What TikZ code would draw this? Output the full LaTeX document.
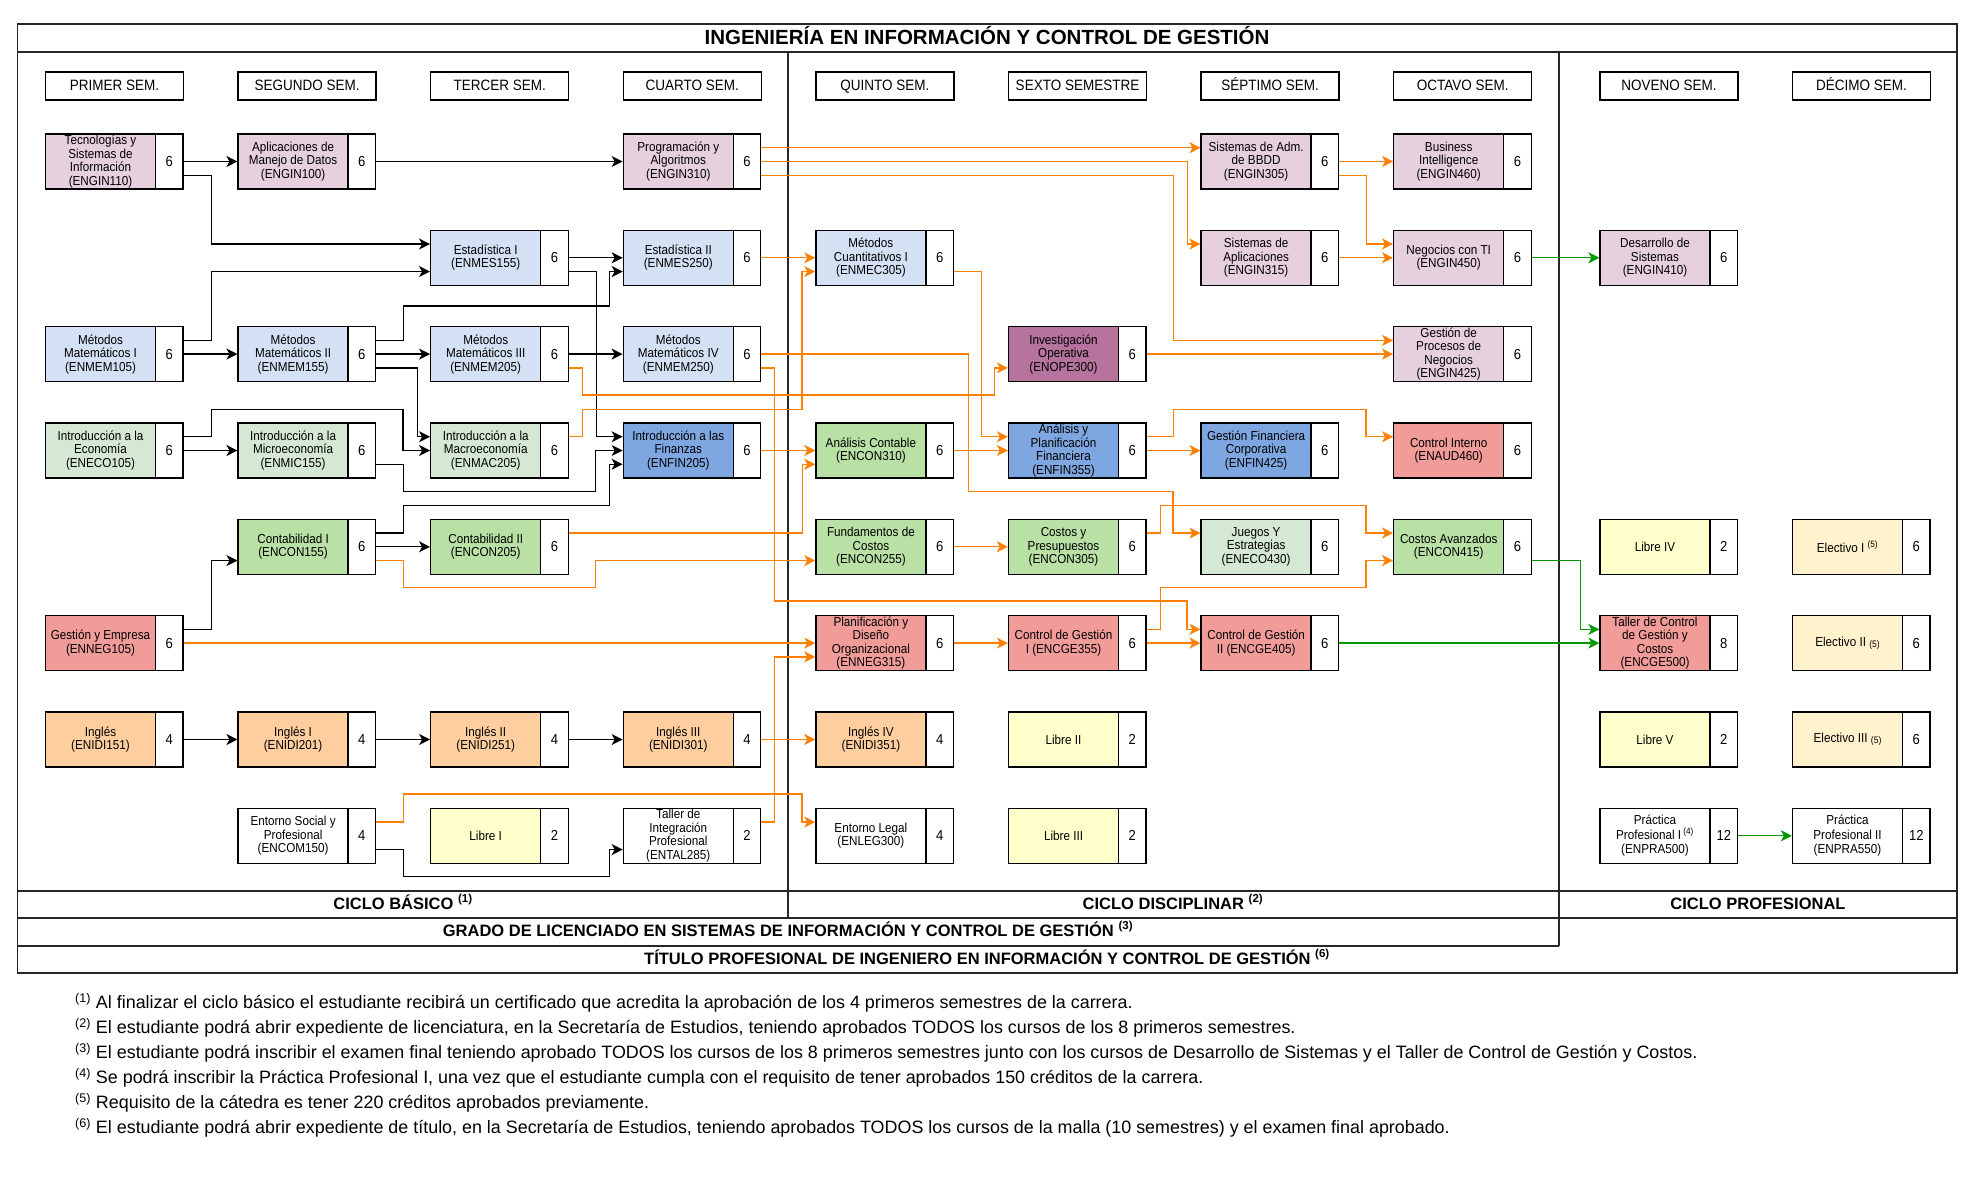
\documentclass[tikz,border=0pt]{standalone}
\usepackage{fontspec}
\setmainfont{Liberation Sans}[FakeStretch=0.9]
\newfontfamily\plainfam{Liberation Sans}
\usetikzlibrary{arrows.meta}
\definecolor{cpink}{HTML}{E6D0DE}
\definecolor{clblue}{HTML}{D4E1F5}
\definecolor{cmblue}{HTML}{7EA6E0}
\definecolor{clgreen}{HTML}{D5E8D4}
\definecolor{cgreen}{HTML}{B9E0A5}
\definecolor{cred}{HTML}{F19C99}
\definecolor{corange}{HTML}{FFCE9F}
\definecolor{cyellow}{HTML}{FFFFCC}
\definecolor{ccream}{HTML}{FFF2CC}
\definecolor{cpurple}{HTML}{B5739D}
\definecolor{lorange}{HTML}{FF8000}
\definecolor{lgreen}{HTML}{009900}
\def\colA{45.5}\def\colB{238.1}\def\colC{430.7}\def\colD{623.3}\def\colE{815.9}
\def\colF{1008.5}\def\colG{1201.1}\def\colH{1393.7}\def\colI{1600}\def\colJ{1792.5}
\def\rowA{134}\def\rowB{230.3}\def\rowC{326.6}\def\rowD{423}\def\rowE{519.3}
\def\rowF{615.6}\def\rowG{712}\def\rowH{808.3}
\newcommand\mkcourse[6]{%
  \node[namebox,fill=#4] (#1) at ({#2+55},{#3+27.5}) {#5};
  \node[credbox] (#1c) at ({#2+123.75},{#3+27.5}) {#6};}
\newcommand\mkhead[3]{\node[semhead] (#1) at ({#2+69},86) {#3};}
\begin{document}
\begin{tikzpicture}[x=1pt,y=-1pt,
  namebox/.style={draw=black,line width=1.3pt,minimum width=110pt,minimum height=55pt,inner sep=0pt,align=center,font=\fontsize{13}{13.5}\selectfont},
  credbox/.style={draw=black,line width=1.3pt,fill=white,minimum width=27.5pt,minimum height=55pt,inner sep=0pt,font=\fontsize{14.5}{16}\selectfont},
  semhead/.style={draw=black,line width=1.3pt,minimum width=138pt,minimum height=28pt,inner sep=0pt,text height=11pt,text depth=3pt,font=\fontsize{15}{16}\selectfont},
  frameline/.style={line width=1.5pt,draw=black!85},
  blk/.style={draw=black,line width=1.3pt,-{Stealth[length=11pt,width=11pt,inset=3pt]}},
  org/.style={blk,draw=lorange},
  grn/.style={blk,draw=lgreen},
  bandtxt/.style={inner sep=0pt,text height=12pt,text depth=3.5pt,font=\plainfam\bfseries\fontsize{16.5}{18}\selectfont},
  foottxt/.style={anchor=west,inner sep=0pt,font=\plainfam\fontsize{17.9}{20}\selectfont}
]
\fill[white] (0,0) rectangle (1971,1184);
\useasboundingbox (0,0) rectangle (1971,1184);
% frame
\draw[frameline] (17.7,24) rectangle (1957,973);
\draw[frameline] (17.7,52) -- (1957,52);
\draw[frameline] (17.7,891) -- (1957,891);
\draw[frameline] (17.7,918) -- (1957,918);
\draw[frameline] (17.7,946) -- (1559,946);
\draw[frameline] (788,52) -- (788,918);
\draw[frameline] (1559,52) -- (1559,946);
\node[inner sep=0pt,text height=15pt,text depth=4pt,font=\plainfam\bfseries\fontsize{20.5}{22}\selectfont] (title) at (987,38.5) {INGENIERÍA EN INFORMACIÓN Y CONTROL DE GESTIÓN};
\node[bandtxt] (cb) at (403,905) {CICLO BÁSICO \textsuperscript{(1)}};
\node[bandtxt] (cd) at (1173,905) {CICLO DISCIPLINAR \textsuperscript{(2)}};
\node[bandtxt] (cp) at (1758,905) {CICLO PROFESIONAL};
\node[bandtxt] (gr) at (788,932) {GRADO DE LICENCIADO EN SISTEMAS DE INFORMACIÓN Y CONTROL DE GESTIÓN \textsuperscript{(3)}};
\node[bandtxt] (ti) at (987,960) {TÍTULO PROFESIONAL DE INGENIERO EN INFORMACIÓN Y CONTROL DE GESTIÓN \textsuperscript{(6)}};
% headers
\mkhead{h1}{\colA}{PRIMER SEM.}
\mkhead{h2}{\colB}{SEGUNDO SEM.}
\mkhead{h3}{\colC}{TERCER SEM.}
\mkhead{h4}{\colD}{CUARTO SEM.}
\mkhead{h5}{\colE}{QUINTO SEM.}
\mkhead{h6}{\colF}{SEXTO SEMESTRE}
\mkhead{h7}{\colG}{SÉPTIMO SEM.}
\mkhead{h8}{\colH}{OCTAVO SEM.}
\mkhead{h9}{\colI}{NOVENO SEM.}
\mkhead{h10}{\colJ}{DÉCIMO SEM.}
% column 1
\mkcourse{ENGIN110}{\colA}{\rowA}{cpink}{Tecnologías y\\Sistemas de\\Información\\(ENGIN110)}{6}
\mkcourse{ENMEM105}{\colA}{\rowC}{clblue}{Métodos\\Matemáticos I\\(ENMEM105)}{6}
\mkcourse{ENECO105}{\colA}{\rowD}{clgreen}{Introducción a la\\Economía\\(ENECO105)}{6}
\mkcourse{ENNEG105}{\colA}{\rowF}{cred}{Gestión y Empresa\\(ENNEG105)}{6}
\mkcourse{ENIDI151}{\colA}{\rowG}{corange}{Inglés\\(ENIDI151)}{4}
% column 2
\mkcourse{ENGIN100}{\colB}{\rowA}{cpink}{Aplicaciones de\\Manejo de Datos\\(ENGIN100)}{6}
\mkcourse{ENMEM155}{\colB}{\rowC}{clblue}{Métodos\\Matemáticos II\\(ENMEM155)}{6}
\mkcourse{ENMIC155}{\colB}{\rowD}{clgreen}{Introducción a la\\Microeconomía\\(ENMIC155)}{6}
\mkcourse{ENCON155}{\colB}{\rowE}{cgreen}{Contabilidad I\\(ENCON155)}{6}
\mkcourse{ENIDI201}{\colB}{\rowG}{corange}{Inglés I\\(ENIDI201)}{4}
\mkcourse{ENCOM150}{\colB}{\rowH}{white}{Entorno Social y\\Profesional\\(ENCOM150)}{4}
% column 3
\mkcourse{ENMES155}{\colC}{\rowB}{clblue}{Estadística I\\(ENMES155)}{6}
\mkcourse{ENMEM205}{\colC}{\rowC}{clblue}{Métodos\\Matemáticos III\\(ENMEM205)}{6}
\mkcourse{ENMAC205}{\colC}{\rowD}{clgreen}{Introducción a la\\Macroeconomía\\(ENMAC205)}{6}
\mkcourse{ENCON205}{\colC}{\rowE}{cgreen}{Contabilidad II\\(ENCON205)}{6}
\mkcourse{ENIDI251}{\colC}{\rowG}{corange}{Inglés II\\(ENIDI251)}{4}
\mkcourse{LIBRE1}{\colC}{\rowH}{cyellow}{Libre I}{2}
% column 4
\mkcourse{ENGIN310}{\colD}{\rowA}{cpink}{Programación y\\Algoritmos\\(ENGIN310)}{6}
\mkcourse{ENMES250}{\colD}{\rowB}{clblue}{Estadística II\\(ENMES250)}{6}
\mkcourse{ENMEM250}{\colD}{\rowC}{clblue}{Métodos\\Matemáticos IV\\(ENMEM250)}{6}
\mkcourse{ENFIN205}{\colD}{\rowD}{cmblue}{Introducción a las\\Finanzas\\(ENFIN205)}{6}
\mkcourse{ENIDI301}{\colD}{\rowG}{corange}{Inglés III\\(ENIDI301)}{4}
\mkcourse{ENTAL285}{\colD}{\rowH}{white}{Taller de\\Integración\\Profesional\\(ENTAL285)}{2}
% column 5
\mkcourse{ENMEC305}{\colE}{\rowB}{clblue}{Métodos\\Cuantitativos I\\(ENMEC305)}{6}
\mkcourse{ENCON310}{\colE}{\rowD}{cgreen}{Análisis Contable\\(ENCON310)}{6}
\mkcourse{ENCON255}{\colE}{\rowE}{cgreen}{Fundamentos de\\Costos\\(ENCON255)}{6}
\mkcourse{ENNEG315}{\colE}{\rowF}{cred}{Planificación y\\Diseño\\Organizacional\\(ENNEG315)}{6}
\mkcourse{ENIDI351}{\colE}{\rowG}{corange}{Inglés IV\\(ENIDI351)}{4}
\mkcourse{ENLEG300}{\colE}{\rowH}{white}{Entorno Legal\\(ENLEG300)}{4}
% column 6
\mkcourse{ENOPE300}{\colF}{\rowC}{cpurple}{Investigación\\Operativa\\(ENOPE300)}{6}
\mkcourse{ENFIN355}{\colF}{\rowD}{cmblue}{Análisis y\\Planificación\\Financiera\\(ENFIN355)}{6}
\mkcourse{ENCON305}{\colF}{\rowE}{cgreen}{Costos y\\Presupuestos\\(ENCON305)}{6}
\mkcourse{ENCGE355}{\colF}{\rowF}{cred}{Control de Gestión\\I (ENCGE355)}{6}
\mkcourse{LIBRE2}{\colF}{\rowG}{cyellow}{Libre II}{2}
\mkcourse{LIBRE3}{\colF}{\rowH}{cyellow}{Libre III}{2}
% column 7
\mkcourse{ENGIN305}{\colG}{\rowA}{cpink}{Sistemas de Adm.\\de BBDD\\(ENGIN305)}{6}
\mkcourse{ENGIN315}{\colG}{\rowB}{cpink}{Sistemas de\\Aplicaciones\\(ENGIN315)}{6}
\mkcourse{ENFIN425}{\colG}{\rowD}{cmblue}{Gestión Financiera\\Corporativa\\(ENFIN425)}{6}
\mkcourse{ENECO430}{\colG}{\rowE}{clgreen}{Juegos Y\\Estrategias\\(ENECO430)}{6}
\mkcourse{ENCGE405}{\colG}{\rowF}{cred}{Control de Gestión\\II (ENCGE405)}{6}
% column 8
\mkcourse{ENGIN460}{\colH}{\rowA}{cpink}{Business\\Intelligence\\(ENGIN460)}{6}
\mkcourse{ENGIN450}{\colH}{\rowB}{cpink}{Negocios con TI\\(ENGIN450)}{6}
\mkcourse{ENGIN425}{\colH}{\rowC}{cpink}{Gestión de\\Procesos de\\Negocios\\(ENGIN425)}{6}
\mkcourse{ENAUD460}{\colH}{\rowD}{cred}{Control Interno\\(ENAUD460)}{6}
\mkcourse{ENCON415}{\colH}{\rowE}{cgreen}{Costos Avanzados\\(ENCON415)}{6}
% column 9
\mkcourse{ENGIN410}{\colI}{\rowB}{cpink}{Desarrollo de\\Sistemas\\(ENGIN410)}{6}
\mkcourse{LIBRE4}{\colI}{\rowE}{cyellow}{Libre IV}{2}
\mkcourse{ENCGE500}{\colI}{\rowF}{cred}{Taller de Control\\de Gestión y\\Costos\\(ENCGE500)}{8}
\mkcourse{LIBRE5}{\colI}{\rowG}{cyellow}{Libre V}{2}
\mkcourse{ENPRA500}{\colI}{\rowH}{white}{Práctica\\[1pt]Profesional I\,\textsuperscript{(4)}\\[1pt](ENPRA500)}{12}
% column 10
\mkcourse{ELEC1}{\colJ}{\rowE}{ccream}{Electivo I \textsuperscript{(5)}}{6}
\mkcourse{ELEC2}{\colJ}{\rowF}{ccream}{Electivo II \raisebox{-1pt}{\fontsize{9.5}{10}\selectfont(5)}}{6}
\mkcourse{ELEC3}{\colJ}{\rowG}{ccream}{Electivo III \raisebox{-1pt}{\fontsize{9.5}{10}\selectfont(5)}}{6}
\mkcourse{ENPRA550}{\colJ}{\rowH}{white}{Práctica\\[1pt]Profesional II\\[1pt](ENPRA550)}{12}
% black connectors
\draw[blk] (ENGIN110c.east) -- (ENGIN100.west);
\draw[blk] ([yshift=-13.75pt]ENGIN110c.east) -- ++(27.5,0) |- ([yshift=13.75pt]ENMES155.west);
\draw[blk] (ENGIN100c.east) -- (ENGIN310.west);
\draw[blk] ([yshift=13.75pt]ENMEM105c.east) -- ++(27.5,0) |- ([yshift=-13.75pt]ENMES155.west);
\draw[blk] (ENMEM105c.east) -- (ENMEM155.west);
\draw[blk] ([yshift=13.75pt]ENMEM155c.east) -- ++(27,0) |- (609.5,306) |- ([yshift=-13.75pt]ENMES250.west);
\draw[blk] (ENMEM155c.east) -- (ENMEM205.west);
\draw[blk] ([yshift=-13.75pt]ENMEM155c.east) -- ++(41,0) |- ([yshift=13.75pt]ENMAC205.west);
\draw[blk] (ENMES155c.east) -- (ENMES250.west);
\draw[blk] ([yshift=-13.75pt]ENMES155c.east) -- ++(27.4,0) |- ([yshift=13.75pt]ENFIN205.west);
\draw[blk] (ENMEM205c.east) -- (ENMEM250.west);
\draw[blk] ([yshift=13.75pt]ENECO105c.east) -- ++(27.5,0) |- (403,409.3) |- (ENMAC205.west);
\draw[blk] (ENECO105c.east) -- (ENMIC155.west);
\draw[blk] ([yshift=-13.75pt]ENMIC155c.east) -- ++(27,0) |- (595.6,491.7) |- (ENFIN205.west);
\draw[blk] ([yshift=13.75pt]ENCON155c.east) -- ++(27,0) |- (609.5,505.7) |- ([yshift=-13.75pt]ENFIN205.west);
\draw[blk] (ENCON155c.east) -- (ENCON205.west);
\draw[blk] ([yshift=13.75pt]ENNEG105c.east) -- ++(27.5,0) |- ([yshift=-13.75pt]ENCON155.west);
\draw[blk] (ENIDI151c.east) -- (ENIDI201.west);
\draw[blk] (ENIDI201c.east) -- (ENIDI251.west);
\draw[blk] (ENIDI251c.east) -- (ENIDI301.west);
\draw[blk] ([yshift=-13.75pt]ENCOM150c.east) -- ++(27,0) |- (609.5,876.7) |- ([yshift=-13.75pt]ENTAL285.west);
% orange connectors
\draw[org] ([yshift=-13.75pt]ENMEM205c.east) -- ++(13.5,0) |- (994.8,395) |- ([yshift=-13.75pt]ENOPE300.west);
\draw[org] ([yshift=13.75pt]ENMAC205c.east) -- ++(13.5,0) |- (802,409.3) |- ([yshift=-13.75pt]ENMEC305.west);
\draw[org] (ENMES250c.east) -- (ENMEC305.west);
\draw[org] ([yshift=13.75pt]ENGIN310c.east) -- ([yshift=13.75pt]ENGIN305.west);
\draw[org] (ENGIN310c.east) -- ++(426.2,0) |- ([yshift=13.75pt]ENGIN315.west);
\draw[org] ([yshift=-13.75pt]ENGIN310c.east) -- ++(412.2,0) |- ([yshift=13.75pt]ENGIN425.west);
\draw[org] (ENOPE300c.east) -- (ENGIN425.west);
\draw[org] (ENGIN305c.east) -- (ENGIN460.west);
\draw[org] ([yshift=-13.75pt]ENGIN305c.east) -- ++(27.4,0) |- ([yshift=13.75pt]ENGIN450.west);
\draw[org] (ENGIN315c.east) -- (ENGIN450.west);
\draw[org] (ENMEM250c.east) -- ++(206.7,0) |- (1173,491.7) |- ([yshift=13.75pt]ENECO430.west);
\draw[org] ([yshift=-13.75pt]ENMEC305c.east) -- ++(27.6,0) |- ([yshift=13.75pt]ENFIN355.west);
\draw[org] ([yshift=-13.75pt]ENMEM250c.east) -- ++(13,0) |- (1187,601) |- ([yshift=13.75pt]ENCGE405.west);
\draw[org] ([yshift=13.75pt]ENTAL285c.east) -- ++(13,0) |- ([yshift=-13.75pt]ENNEG315.west);
\draw[org] (ENFIN205c.east) -- (ENCON310.west);
\draw[org] ([yshift=13.75pt]ENCON205c.east) -- ++(233.8,0) |- ([yshift=-13.75pt]ENCON310.west);
\draw[org] ([yshift=-13.75pt]ENCON155c.east) -- ++(27,0) |- (595.6,587.7) |- ([yshift=-13.75pt]ENCON255.west);
\draw[org] (ENNEG105c.east) -- (ENNEG315.west);
\draw[org] (ENIDI301c.east) -- (ENIDI351.west);
\draw[org] ([yshift=13.75pt]ENCOM150c.east) -- ++(27,0) |- (802,794) |- ([yshift=13.75pt]ENLEG300.west);
\draw[org] (ENCON310c.east) -- (ENFIN355.west);
\draw[org] (ENCON255c.east) -- (ENCON305.west);
\draw[org] (ENNEG315c.east) -- (ENCGE355.west);
\draw[org] ([yshift=13.75pt]ENFIN355c.east) -- ++(27,0) |- (1366,409.3) |- ([yshift=13.75pt]ENAUD460.west);
\draw[org] (ENFIN355c.east) -- (ENFIN425.west);
\draw[org] ([yshift=13.75pt]ENCON305c.east) -- ++(13.8,0) |- (1366,505.7) |- ([yshift=13.75pt]ENCON415.west);
\draw[org] ([yshift=13.75pt]ENCGE355c.east) -- ++(13.8,0) |- (1366,587.7) |- ([yshift=-13.75pt]ENCON415.west);
\draw[org] (ENCGE355c.east) -- (ENCGE405.west);
% green connectors
\draw[grn] (ENGIN450c.east) -- (ENGIN410.west);
\draw[grn] (ENCGE405c.east) -- (ENCGE500.west);
\draw[grn] ([yshift=-13.75pt]ENCON415c.east) -- ++(48.4,0) |- ([yshift=13.75pt]ENCGE500.west);
\draw[grn] (ENPRA500c.east) -- (ENPRA550.west);
% footnotes
\node[foottxt] (f1) at (75,1003) {\textsuperscript{(1)} Al finalizar el ciclo básico el estudiante recibirá un certificado que acredita la aprobación de los 4 primeros semestres de la carrera.};
\node[foottxt] (f2) at (75,1028) {\textsuperscript{(2)} El estudiante podrá abrir expediente de licenciatura, en la Secretaría de Estudios, teniendo aprobados TODOS los cursos de los 8 primeros semestres.};
\node[foottxt] (f3) at (75,1053) {\textsuperscript{(3)} El estudiante podrá inscribir el examen final teniendo aprobado TODOS los cursos de los 8 primeros semestres junto con los cursos de Desarrollo de Sistemas y el Taller de Control de Gestión y Costos.};
\node[foottxt] (f4) at (75,1078) {\textsuperscript{(4)} Se podrá inscribir la Práctica Profesional I, una vez que el estudiante cumpla con el requisito de tener aprobados 150 créditos de la carrera.};
\node[foottxt] (f5) at (75,1103) {\textsuperscript{(5)} Requisito de la cátedra es tener 220 créditos aprobados previamente.};
\node[foottxt] (f6) at (75,1128) {\textsuperscript{(6)} El estudiante podrá abrir expediente de título, en la Secretaría de Estudios, teniendo aprobados TODOS los cursos de la malla (10 semestres) y el examen final aprobado.};
\end{tikzpicture}
\end{document}
